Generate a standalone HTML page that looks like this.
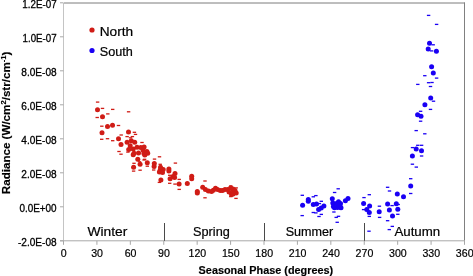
<!DOCTYPE html><html><head><meta charset="utf-8"><style>html,body{margin:0;padding:0;background:#fff;overflow:hidden}svg{display:block;will-change:transform}text{font-family:"Liberation Sans",sans-serif}</style></head><body>
<svg width="473" height="276" viewBox="0 0 473 276">
<line x1="63.5" y1="3" x2="63.5" y2="240.8" stroke="#c4c4c4" stroke-width="1"/>
<line x1="64.0" y1="3" x2="465" y2="3" stroke="#7c7c7c" stroke-width="1"/>
<line x1="464.5" y1="2.5" x2="464.5" y2="240.8" stroke="#808080" stroke-width="1"/>
<line x1="60" y1="240.8" x2="465" y2="240.8" stroke="#a8a8a8" stroke-width="1"/>
<line x1="60" y1="2.80" x2="63.5" y2="2.80" stroke="#a8a8a8" stroke-width="1"/>
<text x="56.6" y="7.80" font-size="10.6" text-anchor="end" textLength="34.3" lengthAdjust="spacingAndGlyphs" stroke="#000" stroke-width="0.3">1.2E-07</text>
<line x1="60" y1="36.80" x2="63.5" y2="36.80" stroke="#a8a8a8" stroke-width="1"/>
<text x="56.6" y="42.20" font-size="10.6" text-anchor="end" textLength="34.0" lengthAdjust="spacingAndGlyphs" stroke="#000" stroke-width="0.3">1.0E-07</text>
<line x1="60" y1="70.80" x2="63.5" y2="70.80" stroke="#a8a8a8" stroke-width="1"/>
<text x="56.6" y="76.20" font-size="10.6" text-anchor="end" textLength="35.3" lengthAdjust="spacingAndGlyphs" stroke="#000" stroke-width="0.3">8.0E-08</text>
<line x1="60" y1="104.80" x2="63.5" y2="104.80" stroke="#a8a8a8" stroke-width="1"/>
<text x="56.6" y="110.20" font-size="10.6" text-anchor="end" textLength="35.3" lengthAdjust="spacingAndGlyphs" stroke="#000" stroke-width="0.3">6.0E-08</text>
<line x1="60" y1="138.80" x2="63.5" y2="138.80" stroke="#a8a8a8" stroke-width="1"/>
<text x="56.6" y="144.20" font-size="10.6" text-anchor="end" textLength="35.3" lengthAdjust="spacingAndGlyphs" stroke="#000" stroke-width="0.3">4.0E-08</text>
<line x1="60" y1="172.80" x2="63.5" y2="172.80" stroke="#a8a8a8" stroke-width="1"/>
<text x="56.6" y="178.20" font-size="10.6" text-anchor="end" textLength="35.3" lengthAdjust="spacingAndGlyphs" stroke="#000" stroke-width="0.3">2.0E-08</text>
<line x1="60" y1="206.80" x2="63.5" y2="206.80" stroke="#a8a8a8" stroke-width="1"/>
<text x="56.6" y="212.20" font-size="10.6" text-anchor="end" textLength="37.2" lengthAdjust="spacingAndGlyphs" stroke="#000" stroke-width="0.3">0.0E+00</text>
<line x1="60" y1="240.80" x2="63.5" y2="240.80" stroke="#a8a8a8" stroke-width="1"/>
<text x="56.6" y="246.20" font-size="10.6" text-anchor="end" textLength="38.6" lengthAdjust="spacingAndGlyphs" stroke="#000" stroke-width="0.3">-2.0E-08</text>
<line x1="63.50" y1="240.8" x2="63.50" y2="244.8" stroke="#a8a8a8" stroke-width="1"/>
<text x="63.70" y="256.8" font-size="10.6" text-anchor="middle" stroke="#000" stroke-width="0.2">0</text>
<line x1="96.92" y1="240.8" x2="96.92" y2="244.8" stroke="#a8a8a8" stroke-width="1"/>
<text x="97.12" y="256.8" font-size="10.6" text-anchor="middle" stroke="#000" stroke-width="0.2">30</text>
<line x1="130.33" y1="240.8" x2="130.33" y2="244.8" stroke="#a8a8a8" stroke-width="1"/>
<text x="130.53" y="256.8" font-size="10.6" text-anchor="middle" stroke="#000" stroke-width="0.2">60</text>
<line x1="163.75" y1="240.8" x2="163.75" y2="244.8" stroke="#a8a8a8" stroke-width="1"/>
<text x="163.95" y="256.8" font-size="10.6" text-anchor="middle" stroke="#000" stroke-width="0.2">90</text>
<line x1="197.17" y1="240.8" x2="197.17" y2="244.8" stroke="#a8a8a8" stroke-width="1"/>
<text x="197.37" y="256.8" font-size="10.6" text-anchor="middle" stroke="#000" stroke-width="0.2">120</text>
<line x1="230.58" y1="240.8" x2="230.58" y2="244.8" stroke="#a8a8a8" stroke-width="1"/>
<text x="230.78" y="256.8" font-size="10.6" text-anchor="middle" stroke="#000" stroke-width="0.2">150</text>
<line x1="264.00" y1="240.8" x2="264.00" y2="244.8" stroke="#a8a8a8" stroke-width="1"/>
<text x="264.20" y="256.8" font-size="10.6" text-anchor="middle" stroke="#000" stroke-width="0.2">180</text>
<line x1="297.42" y1="240.8" x2="297.42" y2="244.8" stroke="#a8a8a8" stroke-width="1"/>
<text x="297.62" y="256.8" font-size="10.6" text-anchor="middle" stroke="#000" stroke-width="0.2">210</text>
<line x1="330.83" y1="240.8" x2="330.83" y2="244.8" stroke="#a8a8a8" stroke-width="1"/>
<text x="331.03" y="256.8" font-size="10.6" text-anchor="middle" stroke="#000" stroke-width="0.2">240</text>
<line x1="364.25" y1="240.8" x2="364.25" y2="244.8" stroke="#a8a8a8" stroke-width="1"/>
<text x="364.45" y="256.8" font-size="10.6" text-anchor="middle" stroke="#000" stroke-width="0.2">270</text>
<line x1="397.67" y1="240.8" x2="397.67" y2="244.8" stroke="#a8a8a8" stroke-width="1"/>
<text x="397.87" y="256.8" font-size="10.6" text-anchor="middle" stroke="#000" stroke-width="0.2">300</text>
<line x1="431.08" y1="240.8" x2="431.08" y2="244.8" stroke="#a8a8a8" stroke-width="1"/>
<text x="431.28" y="256.8" font-size="10.6" text-anchor="middle" stroke="#000" stroke-width="0.2">330</text>
<line x1="464.50" y1="240.8" x2="464.50" y2="244.8" stroke="#a8a8a8" stroke-width="1"/>
<text x="464.70" y="256.8" font-size="10.6" text-anchor="middle" stroke="#000" stroke-width="0.2">360</text>
<line x1="164.5" y1="223" x2="164.5" y2="240.8" stroke="#4a4a4a" stroke-width="1"/>
<line x1="264.5" y1="223" x2="264.5" y2="240.8" stroke="#4a4a4a" stroke-width="1"/>
<line x1="364.5" y1="223" x2="364.5" y2="240.8" stroke="#4a4a4a" stroke-width="1"/>
<text x="87.4" y="236.2" font-size="12" textLength="39.89999999999999" lengthAdjust="spacingAndGlyphs" stroke="#000" stroke-width="0.2">Winter</text>
<text x="193.1" y="236.2" font-size="12" textLength="36.70000000000002" lengthAdjust="spacingAndGlyphs" stroke="#000" stroke-width="0.2">Spring</text>
<text x="285.7" y="236.2" font-size="12" textLength="47.60000000000002" lengthAdjust="spacingAndGlyphs" stroke="#000" stroke-width="0.2">Summer</text>
<text x="394.4" y="236.2" font-size="12" textLength="45.80000000000001" lengthAdjust="spacingAndGlyphs" stroke="#000" stroke-width="0.2">Autumn</text>
<text x="198.6" y="273.7" font-size="10.8" font-weight="bold" textLength="134.6" lengthAdjust="spacingAndGlyphs" stroke="#000" stroke-width="0.15">Seasonal Phase (degrees)</text>
<text transform="translate(10.2,194.2) rotate(-90)" font-size="10.6" font-weight="bold" textLength="142.6" lengthAdjust="spacingAndGlyphs" stroke="#000" stroke-width="0.15">Radiance (W/cm<tspan font-size="7" dy="-4">2</tspan><tspan dy="4">/str/cm</tspan><tspan font-size="7" dy="-4">-1</tspan><tspan dy="4">)</tspan></text>
<rect x="95.90" y="101.45" width="3.4" height="1.3" fill="#d01c16"/>
<rect x="100.80" y="107.75" width="3.4" height="1.3" fill="#d01c16"/>
<rect x="111.00" y="108.75" width="3.4" height="1.3" fill="#d01c16"/>
<rect x="126.90" y="111.15" width="3.4" height="1.3" fill="#d01c16"/>
<rect x="106.10" y="113.25" width="3.4" height="1.3" fill="#d01c16"/>
<rect x="95.50" y="116.85" width="3.4" height="1.3" fill="#d01c16"/>
<rect x="100.10" y="125.55" width="3.4" height="1.3" fill="#d01c16"/>
<rect x="116.80" y="124.85" width="3.4" height="1.3" fill="#d01c16"/>
<rect x="119.50" y="134.35" width="3.4" height="1.3" fill="#d01c16"/>
<rect x="125.40" y="135.95" width="3.4" height="1.3" fill="#d01c16"/>
<rect x="130.70" y="135.95" width="3.4" height="1.3" fill="#d01c16"/>
<rect x="128.80" y="137.15" width="3.4" height="1.3" fill="#d01c16"/>
<rect x="132.70" y="131.65" width="3.4" height="1.3" fill="#d01c16"/>
<rect x="133.80" y="133.75" width="3.4" height="1.3" fill="#d01c16"/>
<rect x="100.00" y="138.65" width="3.4" height="1.3" fill="#d01c16"/>
<rect x="105.80" y="138.05" width="3.4" height="1.3" fill="#d01c16"/>
<rect x="111.00" y="140.05" width="3.4" height="1.3" fill="#d01c16"/>
<rect x="140.30" y="141.85" width="3.4" height="1.3" fill="#d01c16"/>
<rect x="142.20" y="145.75" width="3.4" height="1.3" fill="#d01c16"/>
<rect x="117.30" y="150.85" width="3.4" height="1.3" fill="#d01c16"/>
<rect x="119.30" y="153.55" width="3.4" height="1.3" fill="#d01c16"/>
<rect x="126.20" y="151.45" width="3.4" height="1.3" fill="#d01c16"/>
<rect x="132.30" y="162.65" width="3.4" height="1.3" fill="#d01c16"/>
<rect x="138.40" y="169.55" width="3.4" height="1.3" fill="#d01c16"/>
<rect x="131.90" y="170.45" width="3.4" height="1.3" fill="#d01c16"/>
<rect x="145.60" y="165.55" width="3.4" height="1.3" fill="#d01c16"/>
<rect x="142.90" y="158.65" width="3.4" height="1.3" fill="#d01c16"/>
<rect x="157.80" y="156.15" width="3.4" height="1.3" fill="#d01c16"/>
<rect x="152.80" y="158.45" width="3.4" height="1.3" fill="#d01c16"/>
<rect x="158.50" y="163.65" width="3.4" height="1.3" fill="#d01c16"/>
<rect x="173.70" y="162.45" width="3.4" height="1.3" fill="#d01c16"/>
<rect x="152.00" y="169.35" width="3.4" height="1.3" fill="#d01c16"/>
<rect x="168.00" y="174.65" width="3.4" height="1.3" fill="#d01c16"/>
<rect x="177.50" y="178.75" width="3.4" height="1.3" fill="#d01c16"/>
<rect x="168.00" y="182.65" width="3.4" height="1.3" fill="#d01c16"/>
<rect x="173.30" y="183.45" width="3.4" height="1.3" fill="#d01c16"/>
<rect x="177.50" y="188.75" width="3.4" height="1.3" fill="#d01c16"/>
<rect x="203.30" y="180.35" width="3.4" height="1.3" fill="#d01c16"/>
<rect x="203.30" y="197.15" width="3.4" height="1.3" fill="#d01c16"/>
<rect x="229.10" y="185.35" width="3.4" height="1.3" fill="#d01c16"/>
<rect x="234.50" y="187.25" width="3.4" height="1.3" fill="#d01c16"/>
<rect x="229.10" y="195.95" width="3.4" height="1.3" fill="#d01c16"/>
<rect x="234.30" y="197.75" width="3.4" height="1.3" fill="#d01c16"/>
<rect x="142.40" y="159.35" width="3.4" height="1.3" fill="#d01c16"/>
<rect x="157.70" y="181.75" width="3.4" height="1.3" fill="#d01c16"/>
<rect x="137.80" y="161.15" width="3.4" height="1.3" fill="#d01c16"/>
<circle cx="97.5" cy="109.7" r="2.5" fill="#d01c16"/>
<circle cx="102.5" cy="116.8" r="2.5" fill="#d01c16"/>
<circle cx="107.5" cy="126.5" r="2.5" fill="#d01c16"/>
<circle cx="112.5" cy="125.2" r="2.5" fill="#d01c16"/>
<circle cx="102" cy="132.8" r="2.5" fill="#d01c16"/>
<circle cx="118.5" cy="138.7" r="2.5" fill="#d01c16"/>
<circle cx="121" cy="144.6" r="2.5" fill="#d01c16"/>
<circle cx="128.5" cy="132" r="2.5" fill="#d01c16"/>
<circle cx="127.1" cy="142.2" r="2.5" fill="#d01c16"/>
<circle cx="131.3" cy="140.7" r="2.5" fill="#d01c16"/>
<circle cx="134.7" cy="142.2" r="2.5" fill="#d01c16"/>
<circle cx="130.2" cy="145.7" r="2.5" fill="#d01c16"/>
<circle cx="128.7" cy="149.5" r="2.5" fill="#d01c16"/>
<circle cx="133.2" cy="149.1" r="2.5" fill="#d01c16"/>
<circle cx="137" cy="147.2" r="2.5" fill="#d01c16"/>
<circle cx="140.8" cy="147.6" r="2.5" fill="#d01c16"/>
<circle cx="143.1" cy="150.2" r="2.5" fill="#d01c16"/>
<circle cx="146.9" cy="151.4" r="2.5" fill="#d01c16"/>
<circle cx="134" cy="153.3" r="2.5" fill="#d01c16"/>
<circle cx="138.5" cy="152.9" r="2.5" fill="#d01c16"/>
<circle cx="143.9" cy="153.6" r="2.5" fill="#d01c16"/>
<circle cx="147.7" cy="153.3" r="2.5" fill="#d01c16"/>
<circle cx="144.1" cy="147" r="2.5" fill="#d01c16"/>
<circle cx="144.8" cy="155" r="2.5" fill="#d01c16"/>
<circle cx="133.2" cy="154.8" r="2.5" fill="#d01c16"/>
<circle cx="137.8" cy="159.3" r="2.5" fill="#d01c16"/>
<circle cx="140.1" cy="164.3" r="2.5" fill="#d01c16"/>
<circle cx="133.6" cy="167.3" r="2.5" fill="#d01c16"/>
<circle cx="147.3" cy="162.8" r="2.5" fill="#d01c16"/>
<circle cx="154.3" cy="163.5" r="2.5" fill="#d01c16"/>
<circle cx="154.1" cy="166.6" r="2.5" fill="#d01c16"/>
<circle cx="160.2" cy="170" r="2.5" fill="#d01c16"/>
<circle cx="163.2" cy="169.6" r="2.5" fill="#d01c16"/>
<circle cx="159.4" cy="171.9" r="2.5" fill="#d01c16"/>
<circle cx="162.5" cy="172.6" r="2.5" fill="#d01c16"/>
<circle cx="168.9" cy="168.9" r="2.5" fill="#d01c16"/>
<circle cx="168.9" cy="171" r="2.5" fill="#d01c16"/>
<circle cx="160.5" cy="167.3" r="2.5" fill="#d01c16"/>
<circle cx="175" cy="173.4" r="2.5" fill="#d01c16"/>
<circle cx="160.9" cy="179.9" r="2.5" fill="#d01c16"/>
<circle cx="170.1" cy="178.8" r="2.5" fill="#d01c16"/>
<circle cx="173.1" cy="176.5" r="2.5" fill="#d01c16"/>
<circle cx="174.6" cy="177.6" r="2.5" fill="#d01c16"/>
<circle cx="179.1" cy="184.1" r="2.5" fill="#d01c16"/>
<circle cx="187.3" cy="183.6" r="2.5" fill="#d01c16"/>
<circle cx="191.7" cy="176.2" r="2.5" fill="#d01c16"/>
<circle cx="191.7" cy="178.7" r="2.5" fill="#d01c16"/>
<circle cx="197.3" cy="191.6" r="2.5" fill="#d01c16"/>
<circle cx="197.3" cy="193" r="2.5" fill="#d01c16"/>
<circle cx="213.3" cy="190.2" r="2.5" fill="#d01c16"/>
<circle cx="202.7" cy="187.3" r="2.5" fill="#d01c16"/>
<circle cx="205.4" cy="189.4" r="2.5" fill="#d01c16"/>
<circle cx="208.4" cy="190.9" r="2.5" fill="#d01c16"/>
<circle cx="211.5" cy="191.5" r="2.5" fill="#d01c16"/>
<circle cx="215.5" cy="188.2" r="2.5" fill="#d01c16"/>
<circle cx="220.3" cy="190.4" r="2.5" fill="#d01c16"/>
<circle cx="225" cy="189.6" r="2.5" fill="#d01c16"/>
<circle cx="227.8" cy="189.4" r="2.5" fill="#d01c16"/>
<circle cx="230.7" cy="187.8" r="2.5" fill="#d01c16"/>
<circle cx="233.5" cy="191.6" r="2.5" fill="#d01c16"/>
<circle cx="236.2" cy="192.9" r="2.5" fill="#d01c16"/>
<circle cx="231.5" cy="194.5" r="2.5" fill="#d01c16"/>
<circle cx="217.5" cy="189.5" r="2.5" fill="#d01c16"/>
<circle cx="222.5" cy="190.5" r="2.5" fill="#d01c16"/>
<circle cx="233" cy="189" r="2.5" fill="#d01c16"/>
<circle cx="235" cy="190.5" r="2.5" fill="#d01c16"/>
<circle cx="229" cy="192" r="2.5" fill="#d01c16"/>
<circle cx="233" cy="194" r="2.5" fill="#d01c16"/>
<rect x="300.60" y="194.65" width="3.4" height="1.3" fill="#1a00f4"/>
<rect x="311.60" y="196.15" width="3.4" height="1.3" fill="#1a00f4"/>
<rect x="314.20" y="194.95" width="3.4" height="1.3" fill="#1a00f4"/>
<rect x="317.70" y="202.95" width="3.4" height="1.3" fill="#1a00f4"/>
<rect x="319.60" y="200.65" width="3.4" height="1.3" fill="#1a00f4"/>
<rect x="300.50" y="214.95" width="3.4" height="1.3" fill="#1a00f4"/>
<rect x="311.60" y="211.85" width="3.4" height="1.3" fill="#1a00f4"/>
<rect x="314.20" y="212.25" width="3.4" height="1.3" fill="#1a00f4"/>
<rect x="319.60" y="213.75" width="3.4" height="1.3" fill="#1a00f4"/>
<rect x="317.30" y="215.85" width="3.4" height="1.3" fill="#1a00f4"/>
<rect x="336.50" y="188.15" width="3.4" height="1.3" fill="#1a00f4"/>
<rect x="332.90" y="191.85" width="3.4" height="1.3" fill="#1a00f4"/>
<rect x="332.20" y="211.35" width="3.4" height="1.3" fill="#1a00f4"/>
<rect x="334.50" y="216.75" width="3.4" height="1.3" fill="#1a00f4"/>
<rect x="336.80" y="215.65" width="3.4" height="1.3" fill="#1a00f4"/>
<rect x="335.50" y="221.65" width="3.4" height="1.3" fill="#1a00f4"/>
<rect x="367.60" y="194.05" width="3.4" height="1.3" fill="#1a00f4"/>
<rect x="362.30" y="196.95" width="3.4" height="1.3" fill="#1a00f4"/>
<rect x="377.70" y="205.55" width="3.4" height="1.3" fill="#1a00f4"/>
<rect x="361.90" y="208.95" width="3.4" height="1.3" fill="#1a00f4"/>
<rect x="367.60" y="215.75" width="3.4" height="1.3" fill="#1a00f4"/>
<rect x="377.90" y="216.75" width="3.4" height="1.3" fill="#1a00f4"/>
<rect x="385.90" y="220.05" width="3.4" height="1.3" fill="#1a00f4"/>
<rect x="390.60" y="225.75" width="3.4" height="1.3" fill="#1a00f4"/>
<rect x="367.30" y="230.55" width="3.4" height="1.3" fill="#1a00f4"/>
<rect x="387.60" y="228.95" width="3.4" height="1.3" fill="#1a00f4"/>
<rect x="396.10" y="213.65" width="3.4" height="1.3" fill="#1a00f4"/>
<rect x="390.40" y="204.95" width="3.4" height="1.3" fill="#1a00f4"/>
<rect x="396.50" y="203.85" width="3.4" height="1.3" fill="#1a00f4"/>
<rect x="387.80" y="190.35" width="3.4" height="1.3" fill="#1a00f4"/>
<rect x="385.90" y="186.65" width="3.4" height="1.3" fill="#1a00f4"/>
<rect x="409.00" y="192.85" width="3.4" height="1.3" fill="#1a00f4"/>
<rect x="409.00" y="178.05" width="3.4" height="1.3" fill="#1a00f4"/>
<rect x="410.70" y="163.55" width="3.4" height="1.3" fill="#1a00f4"/>
<rect x="414.60" y="166.45" width="3.4" height="1.3" fill="#1a00f4"/>
<rect x="419.90" y="155.35" width="3.4" height="1.3" fill="#1a00f4"/>
<rect x="410.80" y="146.95" width="3.4" height="1.3" fill="#1a00f4"/>
<rect x="416.10" y="144.65" width="3.4" height="1.3" fill="#1a00f4"/>
<rect x="419.90" y="144.65" width="3.4" height="1.3" fill="#1a00f4"/>
<rect x="414.50" y="129.95" width="3.4" height="1.3" fill="#1a00f4"/>
<rect x="423.10" y="133.15" width="3.4" height="1.3" fill="#1a00f4"/>
<rect x="418.90" y="110.65" width="3.4" height="1.3" fill="#1a00f4"/>
<rect x="418.90" y="120.55" width="3.4" height="1.3" fill="#1a00f4"/>
<rect x="428.80" y="108.75" width="3.4" height="1.3" fill="#1a00f4"/>
<rect x="431.80" y="100.55" width="3.4" height="1.3" fill="#1a00f4"/>
<rect x="423.10" y="75.05" width="3.4" height="1.3" fill="#1a00f4"/>
<rect x="434.90" y="77.45" width="3.4" height="1.3" fill="#1a00f4"/>
<rect x="426.90" y="82.05" width="3.4" height="1.3" fill="#1a00f4"/>
<rect x="430.30" y="81.85" width="3.4" height="1.3" fill="#1a00f4"/>
<rect x="416.10" y="83.75" width="3.4" height="1.3" fill="#1a00f4"/>
<rect x="428.80" y="85.85" width="3.4" height="1.3" fill="#1a00f4"/>
<rect x="431.50" y="44.15" width="3.4" height="1.3" fill="#1a00f4"/>
<rect x="429.90" y="50.25" width="3.4" height="1.3" fill="#1a00f4"/>
<rect x="426.90" y="14.75" width="3.4" height="1.3" fill="#1a00f4"/>
<rect x="434.90" y="23.75" width="3.4" height="1.3" fill="#1a00f4"/>
<circle cx="302.6" cy="205.2" r="2.5" fill="#1a00f4"/>
<circle cx="308.3" cy="199.6" r="2.5" fill="#1a00f4"/>
<circle cx="308.3" cy="201.2" r="2.5" fill="#1a00f4"/>
<circle cx="313.3" cy="204.4" r="2.5" fill="#1a00f4"/>
<circle cx="316.5" cy="204.1" r="2.5" fill="#1a00f4"/>
<circle cx="323.9" cy="206" r="2.5" fill="#1a00f4"/>
<circle cx="321.2" cy="208" r="2.5" fill="#1a00f4"/>
<circle cx="318.6" cy="209.6" r="2.5" fill="#1a00f4"/>
<circle cx="332.3" cy="198.7" r="2.5" fill="#1a00f4"/>
<circle cx="332.8" cy="203" r="2.5" fill="#1a00f4"/>
<circle cx="333.4" cy="206.4" r="2.5" fill="#1a00f4"/>
<circle cx="336.4" cy="203.5" r="2.5" fill="#1a00f4"/>
<circle cx="337.9" cy="205.6" r="2.5" fill="#1a00f4"/>
<circle cx="340.5" cy="203.5" r="2.5" fill="#1a00f4"/>
<circle cx="341" cy="207.7" r="2.5" fill="#1a00f4"/>
<circle cx="345.4" cy="200.8" r="2.5" fill="#1a00f4"/>
<circle cx="348" cy="198.4" r="2.5" fill="#1a00f4"/>
<circle cx="337.5" cy="207.5" r="2.5" fill="#1a00f4"/>
<circle cx="340.5" cy="207.3" r="2.5" fill="#1a00f4"/>
<circle cx="334.5" cy="207.8" r="2.5" fill="#1a00f4"/>
<circle cx="338.5" cy="201.8" r="2.5" fill="#1a00f4"/>
<circle cx="363.6" cy="203.4" r="2.5" fill="#1a00f4"/>
<circle cx="369.6" cy="206.1" r="2.5" fill="#1a00f4"/>
<circle cx="366.8" cy="209.5" r="2.5" fill="#1a00f4"/>
<circle cx="369.3" cy="212.6" r="2.5" fill="#1a00f4"/>
<circle cx="379.2" cy="211.8" r="2.5" fill="#1a00f4"/>
<circle cx="387.6" cy="204" r="2.5" fill="#1a00f4"/>
<circle cx="389.4" cy="210" r="2.5" fill="#1a00f4"/>
<circle cx="392.5" cy="216" r="2.5" fill="#1a00f4"/>
<circle cx="396.3" cy="203.7" r="2.5" fill="#1a00f4"/>
<circle cx="397.8" cy="209.3" r="2.5" fill="#1a00f4"/>
<circle cx="397.3" cy="194.1" r="2.5" fill="#1a00f4"/>
<circle cx="403.5" cy="196.7" r="2.5" fill="#1a00f4"/>
<circle cx="410.7" cy="186.1" r="2.5" fill="#1a00f4"/>
<circle cx="412.4" cy="156" r="2.5" fill="#1a00f4"/>
<circle cx="416.2" cy="149" r="2.5" fill="#1a00f4"/>
<circle cx="421.5" cy="150.7" r="2.5" fill="#1a00f4"/>
<circle cx="417.6" cy="114.8" r="2.5" fill="#1a00f4"/>
<circle cx="421" cy="116.3" r="2.5" fill="#1a00f4"/>
<circle cx="424.9" cy="104.8" r="2.5" fill="#1a00f4"/>
<circle cx="430.7" cy="98" r="2.5" fill="#1a00f4"/>
<circle cx="431.6" cy="66.8" r="2.5" fill="#1a00f4"/>
<circle cx="433.3" cy="73" r="2.5" fill="#1a00f4"/>
<circle cx="429.5" cy="43.3" r="2.5" fill="#1a00f4"/>
<circle cx="428.2" cy="49" r="2.5" fill="#1a00f4"/>
<circle cx="436.4" cy="51.3" r="2.5" fill="#1a00f4"/>
<circle cx="92" cy="30" r="2.6" fill="#d01c16"/><text x="99.7" y="35.8" font-size="12" textLength="33.4" lengthAdjust="spacingAndGlyphs" stroke="#000" stroke-width="0.2">North</text>
<circle cx="92" cy="50.5" r="2.6" fill="#1a00f4"/><text x="99.7" y="56" font-size="12" textLength="33.1" lengthAdjust="spacingAndGlyphs" stroke="#000" stroke-width="0.2">South</text>
</svg></body></html>
